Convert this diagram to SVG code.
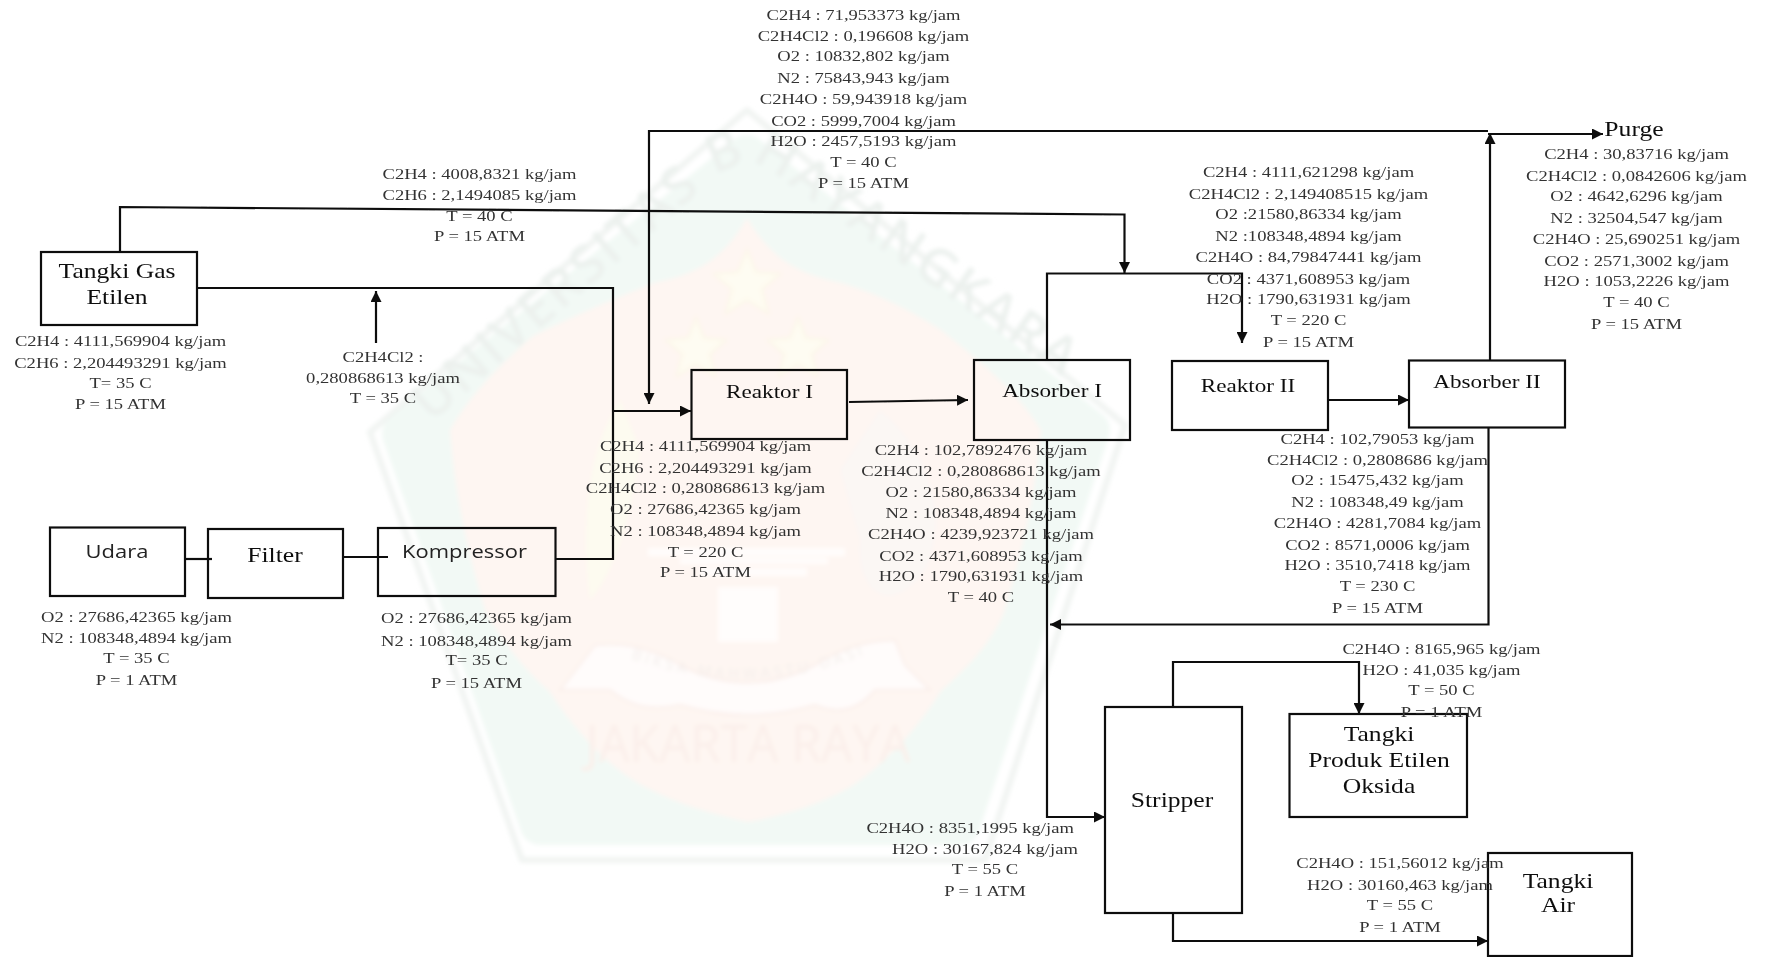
<svg xmlns="http://www.w3.org/2000/svg" width="1767" height="957" viewBox="0 0 1767 957">
<style>
.box{fill:none;stroke:#111;stroke-width:2.2}
.ln{fill:none;stroke:#111;stroke-width:2.2}
.lb{font-family:"Liberation Serif","Times New Roman",serif;font-size:15px;fill:#333;text-anchor:middle}
.nm{font-family:"Liberation Serif","Times New Roman",serif;font-size:19px;fill:#111;text-anchor:middle}
.nb{font-size:21px}
.ns{font-family:"Open Sans","DejaVu Sans",sans-serif;font-size:18px;fill:#222;text-anchor:middle}
.wm{font-family:"Open Sans","DejaVu Sans",sans-serif}
</style>
<defs>
<filter id="soft" filterUnits="userSpaceOnUse" x="0" y="0" width="1767" height="957"><feGaussianBlur stdDeviation="0.6"/></filter>
<filter id="softer" filterUnits="userSpaceOnUse" x="0" y="0" width="1767" height="957"><feGaussianBlur stdDeviation="2"/></filter>
<marker id="ah" markerUnits="userSpaceOnUse" markerWidth="12" markerHeight="11" refX="11" refY="5.500" orient="auto"><path d="M0 0L11 5.500L0 11Z" fill="#111"/></marker>
<path id="arcTop" d="M440 415L715 178Q747 150 780 178L1055 372"/>
<path id="arcMotto" d="M622 655Q748 705 876 650"/>
</defs>
<rect width="1767" height="957" fill="#fff"/>
<g id="watermark" filter="url(#softer)">
<path d="M747 110L1125 425L985 860L522 860L370 432Z" fill="#fff" stroke="#f1f4f2" stroke-width="6" stroke-linejoin="round"/>
<path d="M747 155L1090 430L960 825L540 825L402 434Z" fill="#f2f9f5" stroke="#f2f9f5" stroke-width="40" stroke-linejoin="round"/>
<path d="M747 218C720 265 690 275 654 283C610 300 570 318 533 336C500 365 470 395 450 430C455 500 470 560 486 613C505 645 525 670 549 691C575 730 605 765 643 786C680 805 715 815 748 822C785 815 820 805 852 786C890 760 920 725 941 691C965 670 990 645 1004 613C1020 560 1035 500 1041 430C1020 395 985 365 941 330C910 310 880 295 842 283C805 275 775 265 747 218Z" fill="#fef6f2"/>
<g fill="#fefcf2" stroke="#fcf7e8" stroke-width="2">
<path d="M747 250L756 272L780 274L762 289L768 313L747 300L726 313L732 289L714 274L738 272Z"/>
<path d="M696 318L704 338L726 340L710 354L715 376L696 364L677 376L682 354L666 340L688 338Z"/>
<path d="M798 318L806 338L828 340L812 354L817 376L798 364L779 376L784 354L768 340L790 338Z"/>
</g>
<path d="M620 400Q575 470 590 600Q625 560 640 450Z" fill="#fdfbf0"/>
<path d="M880 410C930 450 950 520 925 570C890 620 855 590 860 540L840 470Z" fill="#fbf7f4"/>
<g fill="#fffdfc"><rect x="648" y="548" width="197" height="8"/><rect x="680" y="558" width="148" height="6"/><rect x="700" y="568" width="107" height="8"/><rect x="718" y="587" width="60" height="55"/></g>
<path d="M595 645Q640 640 680 665Q748 700 815 665Q855 640 895 640L905 665L930 690L875 690Q850 720 815 705Q748 725 680 705Q640 715 610 690L560 690Z" fill="#fffcfb" stroke="#faeeea" stroke-width="2"/>
<g class="wm" fill="#ecf1ee" font-size="52" font-weight="600"><text text-anchor="middle" letter-spacing="3"><textPath href="#arcTop" startOffset="50%">UNIVERSITAS BHAYANGKARA</textPath></text></g>
<text class="wm" font-size="15" fill="#f3eeeb" letter-spacing="4" text-anchor="middle"><textPath href="#arcMotto" startOffset="50%">BIKSA MAHWASTU DASI</textPath></text>
<text class="wm" x="748" y="762" font-size="52" fill="#fbefea" text-anchor="middle" textLength="325" lengthAdjust="spacingAndGlyphs">JAKARTA RAYA</text>
</g>
<g id="connectors" filter="url(#soft)">
<path class="ln" d="M120 252V207L1124.500 214.500V273" marker-end="url(#ah)"/>
<path class="ln" d="M197 288H613V559H555"/>
<path class="ln" d="M613 411H691" marker-end="url(#ah)"/>
<path class="ln" d="M376 343V291" marker-end="url(#ah)"/>
<path class="ln" d="M185 559H212"/>
<path class="ln" d="M343 557H388"/>
<path class="ln" d="M1488 131H649V404" marker-end="url(#ah)"/>
<path class="ln" d="M1490 361V133" marker-end="url(#ah)"/>
<path class="ln" d="M1488 134H1603" marker-end="url(#ah)"/>
<path class="ln" d="M849 402L968 400" marker-end="url(#ah)"/>
<path class="ln" d="M1047 360V273.500H1242V343" marker-end="url(#ah)"/>
<path class="ln" d="M1328 400H1409" marker-end="url(#ah)"/>
<path class="ln" d="M1047 440V817H1105" marker-end="url(#ah)"/>
<path class="ln" d="M1488.500 428V624.500H1050" marker-end="url(#ah)"/>
<path class="ln" d="M1173 707V662H1359V714" marker-end="url(#ah)"/>
<path class="ln" d="M1173 913V941H1488" marker-end="url(#ah)"/>
</g>
<g filter="url(#soft)">
<g id="node-tangki-gas"><rect class="box" x="41" y="252" width="156" height="73"/>
<text class="nm nb" transform="translate(117 0) scale(1.22 1)"><tspan x="0" y="278">Tangki Gas</tspan><tspan x="0" y="304">Etilen</tspan></text></g>
<g id="node-udara"><rect class="box" x="50" y="527.500" width="135" height="68.500"/>
<text class="ns" transform="translate(117 0) scale(1.22 1)" x="0" y="558">Udara</text></g>
<g id="node-filter"><rect class="box" x="208" y="529" width="135" height="69"/>
<text class="nm nb" transform="translate(275 0) scale(1.22 1)" x="0" y="562.500">Filter</text></g>
<g id="node-kompressor"><rect class="box" x="378" y="528" width="177.500" height="68"/>
<text class="ns" transform="translate(464.500 0) scale(1.22 1)" x="0" y="558">Kompressor</text></g>
<g id="node-reaktor-1"><rect class="box" x="691.500" y="370" width="155.500" height="69"/>
<text class="nm" transform="translate(769.500 0) scale(1.22 1)" x="0" y="398.500">Reaktor I</text></g>
<g id="node-absorber-1"><rect class="box" x="974" y="360" width="156" height="80"/>
<text class="nm" transform="translate(1052 0) scale(1.22 1)" x="0" y="397">Absorber I</text></g>
<g id="node-reaktor-2"><rect class="box" x="1172" y="361" width="156" height="69"/>
<text class="nm" transform="translate(1248 0) scale(1.22 1)" x="0" y="392">Reaktor II</text></g>
<g id="node-absorber-2"><rect class="box" x="1409" y="360.500" width="156" height="67"/>
<text class="nm" transform="translate(1487 0) scale(1.22 1)" x="0" y="388.500">Absorber II</text></g>
<g id="node-stripper"><rect class="box" x="1105" y="707" width="137" height="206"/>
<text class="nm nb" transform="translate(1172 0) scale(1.22 1)" x="0" y="807.500">Stripper</text></g>
<g id="node-tangki-produk"><rect class="box" x="1289.500" y="714" width="177.500" height="103"/>
<text class="nm nb" transform="translate(1379 0) scale(1.22 1)"><tspan x="0" y="741">Tangki</tspan><tspan x="0" y="767">Produk Etilen</tspan><tspan x="0" y="793.500">Oksida</tspan></text></g>
<g id="node-tangki-air"><rect class="box" x="1488" y="853" width="144" height="103"/>
<text class="nm nb" transform="translate(1558 0) scale(1.22 1)"><tspan x="0" y="888">Tangki</tspan><tspan x="0" y="912">Air</tspan></text></g>
<g id="node-purge"><text class="nm nb" transform="translate(1634 0) scale(1.22 1)" x="0" y="136">Purge</text></g>
<g id="labels">
<text class="lb" transform="translate(120.500 0) scale(1.24 1)"><tspan x="0" y="346.500">C2H4 : 4111,569904 kg/jam</tspan><tspan x="0" y="368.500">C2H6 : 2,204493291 kg/jam</tspan><tspan x="0" y="388">T= 35 C</tspan><tspan x="0" y="409.500">P = 15 ATM</tspan></text>
<text class="lb" transform="translate(479.500 0) scale(1.24 1)"><tspan x="0" y="179">C2H4 : 4008,8321 kg/jam</tspan><tspan x="0" y="200">C2H6 : 2,1494085 kg/jam</tspan><tspan x="0" y="221">T = 40 C</tspan><tspan x="0" y="241.500">P = 15 ATM</tspan></text>
<text class="lb" transform="translate(383 0) scale(1.24 1)"><tspan x="0" y="362">C2H4Cl2 :</tspan><tspan x="0" y="383.500">0,280868613 kg/jam</tspan><tspan x="0" y="403">T = 35 C</tspan></text>
<text class="lb" transform="translate(136.500 0) scale(1.24 1)"><tspan x="0" y="622">O2 : 27686,42365 kg/jam</tspan><tspan x="0" y="643.500">N2 : 108348,4894 kg/jam</tspan><tspan x="0" y="663">T = 35 C</tspan><tspan x="0" y="685">P = 1 ATM</tspan></text>
<text class="lb" transform="translate(476.500 0) scale(1.24 1)"><tspan x="0" y="623.500">O2 : 27686,42365 kg/jam</tspan><tspan x="0" y="646">N2 : 108348,4894 kg/jam</tspan><tspan x="0" y="665.500">T= 35 C</tspan><tspan x="0" y="688.500">P = 15 ATM</tspan></text>
<text class="lb" transform="translate(863.500 0) scale(1.24 1)"><tspan x="0" y="20.500">C2H4 : 71,953373 kg/jam</tspan><tspan x="0" y="41.500">C2H4Cl2 : 0,196608 kg/jam</tspan><tspan x="0" y="61.500">O2 : 10832,802 kg/jam</tspan><tspan x="0" y="83.500">N2 : 75843,943 kg/jam</tspan><tspan x="0" y="104.500">C2H4O : 59,943918 kg/jam</tspan><tspan x="0" y="126">CO2 : 5999,7004 kg/jam</tspan><tspan x="0" y="146">H2O : 2457,5193 kg/jam</tspan><tspan x="0" y="167.500">T = 40 C</tspan><tspan x="0" y="188.500">P = 15 ATM</tspan></text>
<text class="lb" transform="translate(705.500 0) scale(1.24 1)"><tspan x="0" y="451.500">C2H4 : 4111,569904 kg/jam</tspan><tspan x="0" y="473">C2H6 : 2,204493291 kg/jam</tspan><tspan x="0" y="493.500">C2H4Cl2 : 0,280868613 kg/jam</tspan><tspan x="0" y="514.500">O2 : 27686,42365 kg/jam</tspan><tspan x="0" y="536">N2 : 108348,4894 kg/jam</tspan><tspan x="0" y="557">T = 220 C</tspan><tspan x="0" y="577">P = 15 ATM</tspan></text>
<text class="lb" transform="translate(981 0) scale(1.24 1)"><tspan x="0" y="455">C2H4 : 102,7892476 kg/jam</tspan><tspan x="0" y="476.500">C2H4Cl2 : 0,280868613 kg/jam</tspan><tspan x="0" y="497">O2 : 21580,86334 kg/jam</tspan><tspan x="0" y="518.500">N2 : 108348,4894 kg/jam</tspan><tspan x="0" y="539.500">C2H4O : 4239,923721 kg/jam</tspan><tspan x="0" y="561.500">CO2 : 4371,608953 kg/jam</tspan><tspan x="0" y="581">H2O : 1790,631931 kg/jam</tspan><tspan x="0" y="602.500">T = 40 C</tspan></text>
<text class="lb" transform="translate(1308.500 0) scale(1.24 1)"><tspan x="0" y="177.500">C2H4 : 4111,621298 kg/jam</tspan><tspan x="0" y="199.500">C2H4Cl2 : 2,149408515 kg/jam</tspan><tspan x="0" y="219.500">O2 :21580,86334 kg/jam</tspan><tspan x="0" y="241">N2 :108348,4894 kg/jam</tspan><tspan x="0" y="262.500">C2H4O : 84,79847441 kg/jam</tspan><tspan x="0" y="284">CO2 : 4371,608953 kg/jam</tspan><tspan x="0" y="304">H2O : 1790,631931 kg/jam</tspan><tspan x="0" y="325">T = 220 C</tspan><tspan x="0" y="347">P = 15 ATM</tspan></text>
<text class="lb" transform="translate(1377.500 0) scale(1.24 1)"><tspan x="0" y="444">C2H4 : 102,79053 kg/jam</tspan><tspan x="0" y="465.500">C2H4Cl2 : 0,2808686 kg/jam</tspan><tspan x="0" y="485.500">O2 : 15475,432 kg/jam</tspan><tspan x="0" y="507">N2 : 108348,49 kg/jam</tspan><tspan x="0" y="528.500">C2H4O : 4281,7084 kg/jam</tspan><tspan x="0" y="550">CO2 : 8571,0006 kg/jam</tspan><tspan x="0" y="570">H2O : 3510,7418 kg/jam</tspan><tspan x="0" y="591.500">T = 230 C</tspan><tspan x="0" y="613.500">P = 15 ATM</tspan></text>
<text class="lb" transform="translate(1636.500 0) scale(1.24 1)"><tspan x="0" y="159.500">C2H4 : 30,83716 kg/jam</tspan><tspan x="0" y="181">C2H4Cl2 : 0,0842606 kg/jam</tspan><tspan x="0" y="201.500">O2 : 4642,6296 kg/jam</tspan><tspan x="0" y="223">N2 : 32504,547 kg/jam</tspan><tspan x="0" y="244.500">C2H4O : 25,690251 kg/jam</tspan><tspan x="0" y="266">CO2 : 2571,3002 kg/jam</tspan><tspan x="0" y="286">H2O : 1053,2226 kg/jam</tspan><tspan x="0" y="307.500">T = 40 C</tspan><tspan x="0" y="329">P = 15 ATM</tspan></text>
<text class="lb" transform="translate(985 0) scale(1.24 1)"><tspan x="-12" y="833">C2H4O : 8351,1995 kg/jam</tspan><tspan x="0" y="854.500">H2O : 30167,824 kg/jam</tspan><tspan x="0" y="874">T = 55 C</tspan><tspan x="0" y="896">P = 1 ATM</tspan></text>
<text class="lb" transform="translate(1441.500 0) scale(1.24 1)"><tspan x="0" y="654">C2H4O : 8165,965 kg/jam</tspan><tspan x="0" y="675.500">H2O : 41,035 kg/jam</tspan><tspan x="0" y="695">T = 50 C</tspan><tspan x="0" y="717">P = 1 ATM</tspan></text>
<text class="lb" transform="translate(1400 0) scale(1.24 1)"><tspan x="0" y="868.500">C2H4O : 151,56012 kg/jam</tspan><tspan x="0" y="890">H2O : 30160,463 kg/jam</tspan><tspan x="0" y="910">T = 55 C</tspan><tspan x="0" y="932">P = 1 ATM</tspan></text>
</g>
</g>
</svg>
